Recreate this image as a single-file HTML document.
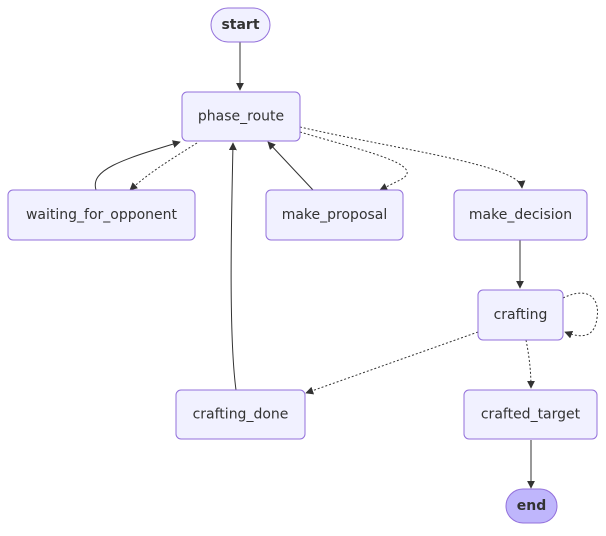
<!DOCTYPE html>
<html><head><style>
body{margin:0;background:#fff;}
svg text{font-family:"DejaVu Sans","Liberation Sans",sans-serif;font-size:14px;fill:#333;text-anchor:middle;dominant-baseline:central;}
.n{fill:#ECECFF;fill-opacity:.75;stroke:#9370DB;stroke-width:1;}
.e{fill:none;stroke:#333;stroke-width:1;}
.d{fill:none;stroke:#333;stroke-width:1;stroke-dasharray:2,2;}
</style></head><body>
<svg width="606" height="531" viewBox="0 0 606 531" xmlns="http://www.w3.org/2000/svg">
<defs><marker id="a" viewBox="0 0 10 10" refX="9" refY="5" markerWidth="8" markerHeight="8" orient="auto"><path d="M0,0L10,5L0,10z" fill="#333"/></marker></defs>
<path class="e" d="M240,42V90" marker-end="url(#a)"/>
<path class="e" d="M96,190C90,170 120,160 180,142" marker-end="url(#a)"/>
<path class="d" d="M197,143C170,160 150,172 130,190" marker-end="url(#a)"/>
<path class="e" d="M313,190L268,142" marker-end="url(#a)"/>
<path class="d" d="M300,132C360,150 430,165 400,180L380,190" marker-end="url(#a)"/>
<path class="d" d="M300,127C400,150 520,165 522,188" marker-end="url(#a)"/>
<path class="e" d="M236,390C228,330 232,200 233,143" marker-end="url(#a)"/>
<path class="e" d="M520,240V288" marker-end="url(#a)"/>
<path class="d" d="M563,298C590,285 600,300 597,318C595,335 585,340 565,332" marker-end="url(#a)"/>
<path class="d" d="M478,332L306,393" marker-end="url(#a)"/>
<path class="d" d="M526,340C530,360 531,375 531,388" marker-end="url(#a)"/>
<path class="e" d="M531,440V488" marker-end="url(#a)"/>
<rect class="n" x="211" y="8" width="59" height="34" rx="17"/><text x="240.5" y="25" font-weight="bold">start</text>
<rect class="n" x="182" y="92" width="118" height="49" rx="5"/><text x="241" y="116.5">phase_route</text>
<rect class="n" x="8" y="190" width="187" height="50" rx="5"/><text x="101.5" y="215">waiting_for_opponent</text>
<rect class="n" x="266" y="190" width="137" height="50" rx="5"/><text x="334.5" y="215">make_proposal</text>
<rect class="n" x="454" y="190" width="133" height="50" rx="5"/><text x="520.5" y="215">make_decision</text>
<rect class="n" x="478" y="290" width="85" height="50" rx="5"/><text x="520.5" y="315">crafting</text>
<rect class="n" x="176" y="390" width="129" height="49" rx="5"/><text x="240.5" y="414.5">crafting_done</text>
<rect class="n" x="464" y="390" width="133" height="49" rx="5"/><text x="530.5" y="414.5">crafted_target</text>
<rect x="506" y="489" width="51" height="34" rx="17" fill="#BFB6FC" stroke="#9370DB"/><text x="531.5" y="506" font-weight="bold">end</text>
</svg>
</body></html>
